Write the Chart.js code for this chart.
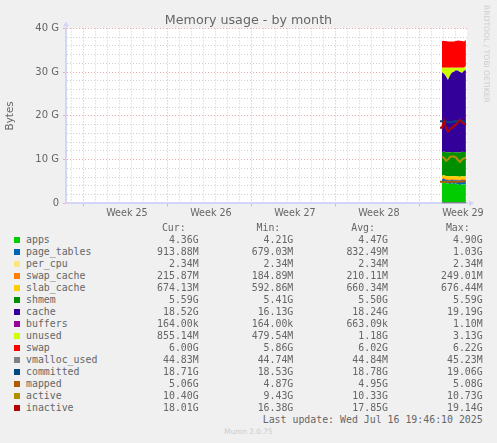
<!DOCTYPE html>
<html>
<head>
<meta charset="utf-8">
<title>Memory usage - by month</title>
<script src="https://cdn.jsdelivr.net/npm/chart.js@4/dist/chart.umd.js"></script>
<style>
  html, body { margin: 0; padding: 0; background: #f0f0f0; overflow: hidden; }
  #wrap { position: relative; width: 497px; height: 443px; }
  #myChart { position: absolute; left: 0; top: 0; }
  #chartTitle { position: absolute; left: 0; width: 497px; top: 12px; text-align: center; font: 12.7px/15px "DejaVu Sans", sans-serif; color: #666; }
  .mono { position: absolute; font: 9.9px "DejaVu Sans Mono", monospace; color: #666; white-space: pre; line-height: 12px; }
  .swatch { position: absolute; width: 6px; height: 6px; }
  #rrd { position: absolute; left: 482px; top: 5px; writing-mode: vertical-rl; font: 7.6px "DejaVu Sans", sans-serif; color: #ccc; white-space: pre; }
  #munin { position: absolute; left: 0; width: 497px; top: 427px; text-align: center; font: 7.4px "DejaVu Sans", sans-serif; color: #ccc; }
</style>
</head>
<body>
<div id="wrap">
  <canvas id="myChart" width="497" height="225"></canvas>
  <div id="chartTitle">Memory usage - by month</div>
  <div id="rrd">RRDTOOL / TOBI OETIKER</div>
  <div id="munin">Munin 2.0.75</div>
</div>
<script>
// days since the start of week 25
const days = [29.67, 29.83, 30.0, 30.17, 30.33, 30.5, 30.67, 30.83, 31.0, 31.17, 31.33, 31.5, 31.67, 31.83];
const weekLabels = ["Week 25", "Week 26", "Week 27", "Week 28", "Week 29"];
const weekLabelDays = [3.58, 10.58, 17.58, 24.58, 31.58];

// stacked areas, GB (nothing before the second sample)
const apps = [null, 4.8, 4.9, 4.6, 4.5, 4.4, 4.5, 4.4, 4.5, 4.3, 4.21, 4.3, 4.3, 4.36];
const pageTables = [null, 0.68, 0.7, 0.75, 0.8, 0.85, 0.85, 0.9, 0.8, 0.95, 1.0, 1.03, 0.95, 0.91];
const perCpu = [null, 0.002, 0.002, 0.002, 0.002, 0.002, 0.002, 0.002, 0.002, 0.002, 0.002, 0.002, 0.002, 0.002];
const swapCache = [null, 0.2, 0.22, 0.25, 0.23, 0.2, 0.2, 0.19, 0.21, 0.2, 0.19, 0.2, 0.22, 0.22];
const slabCache = [null, 0.6, 0.62, 0.65, 0.66, 0.67, 0.67, 0.67, 0.67, 0.67, 0.67, 0.67, 0.67, 0.67];
const shmem = [null, 5.41, 5.42, 5.45, 5.46, 5.48, 5.5, 5.5, 5.5, 5.52, 5.55, 5.57, 5.58, 5.59];
const cache = [null, 18.3, 17.74, 17.3, 16.55, 17.6, 18.18, 18.44, 18.72, 18.66, 18.38, 18.03, 18.58, 18.75];
const buffers = [null, 0.0002, 0.0002, 0.0002, 0.0002, 0.0002, 0.0002, 0.0002, 0.0002, 0.0002, 0.0002, 0.0002, 0.0002, 0.0002];
const unused = [null, 1.0, 1.4, 2.0, 2.8, 1.8, 1.1, 0.9, 0.6, 0.7, 1.0, 1.2, 0.7, 0.85];
const swap = [null, 6.1, 6.1, 6.1, 6.0, 6.0, 6.0, 6.0, 6.1, 6.22, 6.2, 6.1, 6.0, 6.0];

// lines on top of the stack, GB
const vmallocUsed = [null, 0.045, 0.045, 0.045, 0.045, 0.045, 0.045, 0.045, 0.045, 0.045, 0.045, 0.045, 0.045, 0.045];
const committed = [18.75, 18.75, 18.7, 18.7, 18.6, 18.55, 18.6, 18.7, 18.75, 18.8, 18.85, 18.8, 18.75, 18.71];
const mapped = [4.9, 4.9, 4.95, 4.95, 4.9, 4.9, 4.9, 4.95, 4.95, 4.95, 5.0, 5.0, 5.05, 5.06];
const active = [null, 10.6, 10.4, 9.7, 10.0, 10.6, 10.7, 10.7, 10.5, 9.9, 9.43, 10.0, 10.3, 10.4];
const inactive = [17.3, 17.3, 18.9, 17.3, 16.4, 16.9, 17.3, 17.6, 18.0, 18.5, 19.1, 18.6, 18.2, 18.01];

// legend table
const legendNames = ["apps", "page_tables", "per_cpu", "swap_cache", "slab_cache", "shmem", "cache", "buffers", "unused", "swap", "vmalloc_used", "committed", "mapped", "active", "inactive"];
const legendColors = ["#00CC00", "#0066B3", "#FFE680", "#FF8000", "#FFCC00", "#008F00", "#330099", "#990099", "#CCFF00", "#FF0000", "#808080", "#00487D", "#B35A00", "#B38F00", "#B30000"];
const curValues = ["4.36G", "913.88M", "2.34M", "215.87M", "674.13M", "5.59G", "18.52G", "164.00k", "855.14M", "6.00G", "44.83M", "18.71G", "5.06G", "10.40G", "18.01G"];
const minValues = ["4.21G", "679.03M", "2.34M", "184.89M", "592.86M", "5.41G", "16.13G", "164.00k", "479.54M", "5.86G", "44.74M", "18.53G", "4.87G", "9.43G", "16.38G"];
const avgValues = ["4.47G", "832.49M", "2.34M", "210.11M", "660.34M", "5.50G", "18.24G", "663.09k", "1.18G", "6.02G", "44.84M", "18.78G", "4.95G", "10.33G", "17.85G"];
const maxValues = ["4.90G", "1.03G", "2.34M", "249.01M", "676.44M", "5.59G", "19.19G", "1.10M", "3.13G", "6.22G", "45.23M", "19.06G", "5.08G", "10.73G", "19.14G"];

const GRID_MINOR = "#cfcfcf";
const GRID_MAJOR = "#eeaaaa";
const AXIS_COLOR = "#d2d4f8";
const TEXT_COLOR = "#666";
const X_MIN = -1.5;
const X_MAX = 31.92;

function lineSet(label, values, color) {
  return { label: label, data: values, borderColor: color, borderWidth: 2, fill: false, stack: label };
}
function areaSet(label, values, color, fill) {
  return { label: label, data: values, borderColor: color, backgroundColor: color, borderWidth: 0, fill: fill, stack: "memory" };
}

// lines come first so they are painted over the areas
const datasets = [
  lineSet("inactive", inactive, "#B30000"),
  lineSet("active", active, "#B38F00"),
  lineSet("mapped", mapped, "#B35A00"),
  lineSet("committed", committed, "#00487D"),
  lineSet("vmalloc_used", vmallocUsed, "#808080"),
  areaSet("apps", apps, "#00CC00", "origin"),
  areaSet("page_tables", pageTables, "#0066B3", "-1"),
  areaSet("per_cpu", perCpu, "#FFE680", "-1"),
  areaSet("swap_cache", swapCache, "#FF8000", "-1"),
  areaSet("slab_cache", slabCache, "#FFCC00", "-1"),
  areaSet("shmem", shmem, "#008F00", "-1"),
  areaSet("cache", cache, "#330099", "-1"),
  areaSet("buffers", buffers, "#990099", "-1"),
  areaSet("unused", unused, "#CCFF00", "-1"),
  areaSet("swap", swap, "#FF0000", "-1"),
];

// white plot background and the two axis arrows
const plotFrame = {
  id: "plotFrame",
  beforeDraw(chart) {
    const a = chart.chartArea, ctx = chart.ctx;
    ctx.save();
    ctx.fillStyle = "#fff";
    ctx.fillRect(a.left, a.top, a.right - a.left, a.bottom - a.top);
    ctx.restore();
  },
  afterDraw(chart) {
    const a = chart.chartArea, ctx = chart.ctx;
    ctx.save();
    ctx.fillStyle = AXIS_COLOR;
    ctx.beginPath();
    ctx.moveTo(a.left - 3, a.top - 2);
    ctx.lineTo(a.left + 3, a.top - 2);
    ctx.lineTo(a.left, a.top - 7);
    ctx.closePath();
    ctx.fill();
    ctx.beginPath();
    ctx.moveTo(a.right + 2, a.bottom - 3);
    ctx.lineTo(a.right + 2, a.bottom + 3);
    ctx.lineTo(a.right + 7, a.bottom);
    ctx.closePath();
    ctx.fill();
    ctx.restore();
  },
};

const config = {
  type: "line",
  data: { labels: days, datasets: datasets },
  plugins: [plotFrame],
  options: {
    responsive: false,
    animation: false,
    devicePixelRatio: 1,
    elements: { point: { radius: 0 }, line: { tension: 0 } },
    layout: { padding: { left: 0, right: 30, top: 28.4, bottom: 0 } },
    plugins: {
      legend: { display: false },
      tooltip: { enabled: false },
    },
    scales: {
      x: {
        type: "linear",
        min: X_MIN,
        max: X_MAX,
        afterBuildTicks(scale) {
          const ticks = [];
          for (let d = -1; d <= 31; d++) ticks.push({ value: d });
          scale.ticks = ticks;
        },
        afterFit(scale) { scale.height = 3; },
        ticks: { display: false, autoSkip: false },
        grid: {
          color: (c) => (c.tick.value % 7 === 0 ? GRID_MAJOR : GRID_MINOR),
          tickColor: (c) => (c.tick.value % 7 === 0 ? GRID_MAJOR : "transparent"),
          tickLength: 3,
        },
        border: { color: AXIS_COLOR, width: 2, dash: [1, 2] },
      },
      x2: {
        type: "linear",
        position: "bottom",
        min: X_MIN,
        max: X_MAX,
        afterBuildTicks(scale) {
          scale.ticks = weekLabelDays.map((d) => ({ value: d }));
        },
        afterFit(scale) { scale.height = 18.7; },
        ticks: {
          autoSkip: false,
          maxRotation: 0,
          color: TEXT_COLOR,
          padding: 1,
          font: { family: "DejaVu Sans", size: 9.6 },
          callback: (value, i) => weekLabels[i],
        },
        grid: { display: false, tickLength: 0 },
        border: { display: false },
      },
      y: {
        min: 0,
        max: 40,
        stacked: true,
        afterFit(scale) { scale.width = 66; },
        ticks: {
          stepSize: 2,
          autoSkip: false,
          color: TEXT_COLOR,
          padding: 4,
          font: { family: "DejaVu Sans", size: 10 },
          callback: (value) => (value === 0 ? "0" : value % 10 === 0 ? value + " G" : ""),
        },
        title: {
          display: true,
          text: "Bytes",
          color: TEXT_COLOR,
          padding: { top: 4, bottom: 0 },
          font: { family: "DejaVu Sans", size: 10.4 },
        },
        grid: {
          color: (c) => (c.tick.value % 10 === 0 ? GRID_MAJOR : GRID_MINOR),
          tickColor: (c) => (c.tick.value % 10 === 0 ? GRID_MAJOR : "transparent"),
          tickLength: 3,
        },
        border: { color: AXIS_COLOR, width: 2, dash: [1, 2] },
      },
    },
  },
};

new Chart(document.getElementById("myChart"), config);

// legend table under the plot, real text
const wrap = document.getElementById("wrap");
function addText(text, y, left, right) {
  const el = document.createElement("div");
  el.className = "mono";
  el.textContent = text;
  el.style.top = y - 6 + "px";
  if (left !== null) el.style.left = left + "px";
  if (right !== null) el.style.right = 497 - right + "px";
  wrap.appendChild(el);
}
const columns = [
  { head: "Cur:", values: curValues, right: 198.7 },
  { head: "Min:", values: minValues, right: 293.3 },
  { head: "Avg:", values: avgValues, right: 388 },
  { head: "Max:", values: maxValues, right: 482.7 },
];
columns.forEach((col) => {
  addText(col.head, 228, null, col.right - 13);
  col.values.forEach((v, i) => addText(v, 240 + i * 12, null, col.right));
});
legendNames.forEach((name, i) => {
  const y = 240 + i * 12;
  const box = document.createElement("div");
  box.className = "swatch";
  box.style.left = "14px";
  box.style.top = y - 3 + "px";
  box.style.background = legendColors[i];
  wrap.appendChild(box);
  addText(name, y, 26, null);
});
addText("Last update: Wed Jul 16 19:46:10 2025", 420, null, 482.7);
</script>
</body>
</html>
